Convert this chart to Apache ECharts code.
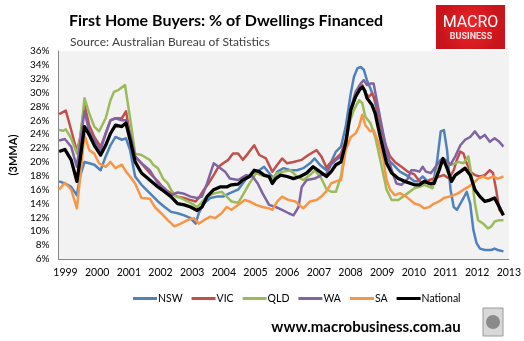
<!DOCTYPE html>
<html><head><meta charset="utf-8">
<script src="https://cdn.jsdelivr.net/npm/echarts@6/dist/echarts.min.js"></script>
<style>html,body{margin:0;padding:0;background:#fff}#c{width:524px;height:341px}</style>
</head><body><div id="c"></div>
<script>
var titleText = 'First Home Buyers: % of Dwellings Financed';
var subtitleText = 'Source: Australian Bureau of Statistics';
var footerText = 'www.macrobusiness.com.au';
var yAxisName = '(3MMA)';
var yearTicks = [1999,2000,2001,2002,2003,2004,2005,2006,2007,2008,2009,2010,2011,2012,2013];
var seriesNames = ['NSW','VIC','QLD','WA','SA','National'];

var nsw = [[1998.80,17.2],[1998.98,16.9],[1999.18,16.4],[1999.36,15.2],[1999.46,17.9],[1999.60,20.0],[1999.75,19.8],[1999.91,19.6],[2000.11,18.8],[2000.27,20.8],[2000.42,22.4],[2000.58,23.6],[2000.78,23.2],[2000.91,23.4],[2001.04,21.7],[2001.20,17.9],[2001.40,16.7],[2001.66,15.5],[2001.92,14.3],[2002.13,13.5],[2002.33,12.8],[2002.54,12.6],[2002.75,12.3],[2002.95,11.9],[2003.11,11.1],[2003.21,12.6],[2003.37,14.0],[2003.57,14.8],[2003.78,15.0],[2003.98,15.0],[2004.19,15.5],[2004.45,16.0],[2004.71,17.6],[2004.91,18.4],[2005.12,18.8],[2005.27,19.3],[2005.43,18.4],[2005.58,17.6],[2005.69,18.6],[2005.89,19.1],[2006.10,18.8],[2006.31,18.8],[2006.51,19.1],[2006.72,19.8],[2006.87,20.5],[2007.03,19.6],[2007.24,18.8],[2007.39,20.0],[2007.54,21.5],[2007.70,22.2],[2007.85,25.1],[2008.01,29.9],[2008.11,32.3],[2008.22,33.5],[2008.32,33.7],[2008.42,33.3],[2008.52,31.8],[2008.63,30.6],[2008.73,29.4],[2008.89,26.5],[2009.04,23.2],[2009.20,20.3],[2009.35,19.6],[2009.56,18.6],[2009.76,18.1],[2010.02,17.2],[2010.13,17.2],[2010.28,17.9],[2010.44,17.2],[2010.59,16.4],[2010.74,20.3],[2010.85,24.4],[2010.95,24.6],[2011.05,21.7],[2011.16,16.0],[2011.26,13.5],[2011.36,13.1],[2011.47,14.0],[2011.57,14.8],[2011.67,15.7],[2011.78,14.0],[2011.88,10.2],[2011.98,8.3],[2012.09,7.5],[2012.24,7.3],[2012.45,7.3],[2012.55,7.5],[2012.65,7.3],[2012.83,7.1]];

var vic = [[1998.80,26.9],[1999.01,27.4],[1999.18,24.6],[1999.36,21.5],[1999.46,23.4],[1999.60,28.2],[1999.75,25.3],[1999.91,23.6],[2000.11,22.2],[2000.27,24.1],[2000.42,26.0],[2000.58,26.3],[2000.78,26.3],[2000.91,27.3],[2001.04,23.9],[2001.20,20.8],[2001.40,19.8],[2001.66,18.4],[2001.92,17.2],[2002.13,16.0],[2002.33,15.5],[2002.54,15.0],[2002.75,14.8],[2002.95,14.5],[2003.11,14.3],[2003.21,14.8],[2003.37,16.0],[2003.52,16.9],[2003.68,18.1],[2003.83,19.3],[2003.98,19.8],[2004.14,20.3],[2004.29,21.2],[2004.45,21.2],[2004.60,20.3],[2004.76,21.2],[2004.96,22.4],[2005.12,21.0],[2005.33,20.5],[2005.53,18.6],[2005.69,19.6],[2005.84,20.5],[2006.00,19.8],[2006.20,20.0],[2006.46,20.3],[2006.67,21.0],[2006.93,21.7],[2007.08,20.8],[2007.24,19.2],[2007.39,20.0],[2007.54,20.5],[2007.70,21.2],[2007.85,23.2],[2008.01,27.5],[2008.16,29.4],[2008.27,30.4],[2008.37,31.1],[2008.47,29.9],[2008.58,29.4],[2008.68,29.9],[2008.78,28.9],[2008.94,25.6],[2009.09,22.7],[2009.25,20.8],[2009.40,20.0],[2009.61,19.3],[2009.81,18.6],[2010.02,18.2],[2010.18,17.2],[2010.33,16.9],[2010.49,17.4],[2010.64,17.6],[2010.80,17.9],[2010.95,18.1],[2011.11,17.6],[2011.26,18.8],[2011.36,20.3],[2011.47,21.5],[2011.57,21.2],[2011.67,19.8],[2011.78,18.6],[2011.93,18.1],[2012.09,17.9],[2012.24,18.1],[2012.40,18.8],[2012.50,18.4],[2012.60,16.0],[2012.70,13.1],[2012.83,12.3]];

var qld = [[1998.80,24.6],[1998.93,24.5],[1999.01,24.7],[1999.18,23.4],[1999.36,21.2],[1999.46,23.2],[1999.60,29.2],[1999.75,27.0],[1999.91,25.1],[2000.06,24.4],[2000.27,26.3],[2000.42,28.9],[2000.53,30.1],[2000.68,30.4],[2000.88,31.1],[2001.04,26.3],[2001.20,21.2],[2001.40,21.0],[2001.66,20.3],[2001.77,19.6],[2001.92,19.1],[2002.08,17.6],[2002.23,16.9],[2002.33,16.0],[2002.49,15.0],[2002.64,14.8],[2002.85,14.3],[2003.06,13.8],[2003.16,13.5],[2003.26,14.0],[2003.42,14.8],[2003.57,15.2],[2003.73,15.5],[2003.93,15.7],[2004.09,15.0],[2004.24,14.3],[2004.45,14.1],[2004.60,15.2],[2004.81,16.9],[2005.02,18.4],[2005.17,18.1],[2005.33,17.9],[2005.53,17.6],[2005.69,18.4],[2005.89,18.6],[2006.10,18.8],[2006.31,17.9],[2006.51,17.4],[2006.72,18.1],[2006.87,18.8],[2007.08,17.6],[2007.24,16.1],[2007.39,15.7],[2007.54,15.7],[2007.70,17.9],[2007.80,20.8],[2007.96,25.6],[2008.11,27.5],[2008.27,28.9],[2008.37,28.5],[2008.47,26.5],[2008.63,25.6],[2008.78,23.6],[2008.94,20.3],[2009.14,16.0],[2009.30,14.5],[2009.51,14.5],[2009.66,15.0],[2009.81,15.5],[2010.02,16.2],[2010.18,16.4],[2010.33,16.7],[2010.49,16.4],[2010.59,16.2],[2010.74,18.8],[2010.90,20.0],[2011.05,19.8],[2011.21,19.6],[2011.41,20.0],[2011.57,19.8],[2011.72,20.8],[2011.83,17.9],[2011.93,14.0],[2012.03,11.6],[2012.19,11.1],[2012.34,10.4],[2012.45,10.7],[2012.55,11.4],[2012.70,11.6],[2012.83,11.6]];

var wa = [[1998.80,23.1],[1998.98,23.3],[1999.18,22.2],[1999.36,19.3],[1999.46,22.7],[1999.60,27.3],[1999.75,24.4],[1999.91,23.2],[2000.11,21.7],[2000.27,24.1],[2000.42,26.0],[2000.58,26.3],[2000.78,26.0],[2000.91,26.0],[2001.04,24.1],[2001.20,20.8],[2001.40,19.8],[2001.66,18.8],[2001.92,16.9],[2002.13,16.2],[2002.33,15.2],[2002.54,15.6],[2002.75,15.4],[2002.95,15.0],[2003.16,14.8],[2003.31,15.0],[2003.47,16.9],[2003.68,19.8],[2003.83,19.3],[2004.04,18.6],[2004.19,17.6],[2004.45,17.4],[2004.71,18.1],[2004.91,17.9],[2005.07,16.9],[2005.22,15.5],[2005.43,13.8],[2005.64,13.5],[2005.84,13.1],[2006.05,12.6],[2006.20,12.3],[2006.36,13.5],[2006.46,16.4],[2006.62,17.4],[2006.87,17.6],[2007.08,18.1],[2007.24,18.3],[2007.39,19.6],[2007.54,20.3],[2007.70,20.8],[2007.85,22.7],[2008.01,27.7],[2008.16,30.1],[2008.32,31.3],[2008.42,31.8],[2008.52,31.1],[2008.63,31.3],[2008.73,31.3],[2008.83,28.9],[2008.99,25.1],[2009.14,21.7],[2009.30,18.8],[2009.45,16.9],[2009.61,16.7],[2009.81,17.6],[2009.92,18.8],[2010.02,18.8],[2010.18,18.6],[2010.28,19.3],[2010.38,18.6],[2010.54,18.4],[2010.69,19.3],[2010.85,20.3],[2011.00,20.3],[2011.16,19.6],[2011.31,20.8],[2011.47,22.4],[2011.62,23.2],[2011.78,23.6],[2011.93,24.4],[2012.09,23.4],[2012.24,23.9],[2012.40,22.9],[2012.55,23.4],[2012.70,22.9],[2012.83,22.2]];

var sa = [[1998.80,16.0],[1998.98,17.0],[1999.18,16.0],[1999.36,13.3],[1999.46,17.6],[1999.60,23.9],[1999.75,21.7],[1999.91,21.2],[2000.06,19.8],[2000.27,19.3],[2000.42,20.0],[2000.58,19.1],[2000.78,19.6],[2000.91,18.6],[2001.04,17.9],[2001.20,16.9],[2001.40,14.8],[2001.66,14.7],[2001.82,13.5],[2002.02,12.6],[2002.23,11.6],[2002.44,10.7],[2002.64,11.1],[2002.85,11.6],[2003.06,11.9],[2003.21,11.1],[2003.37,11.6],[2003.57,12.1],[2003.73,11.9],[2003.93,12.6],[2004.09,13.5],[2004.24,13.1],[2004.45,13.8],[2004.66,14.5],[2004.81,14.3],[2005.02,13.8],[2005.22,13.5],[2005.43,13.3],[2005.53,13.1],[2005.69,14.3],[2005.84,15.0],[2006.05,14.5],[2006.26,14.3],[2006.51,13.3],[2006.72,14.3],[2006.93,14.5],[2007.08,15.0],[2007.24,15.8],[2007.39,16.9],[2007.54,17.2],[2007.70,17.4],[2007.85,21.7],[2008.01,23.6],[2008.16,24.1],[2008.27,25.1],[2008.37,26.8],[2008.47,25.3],[2008.63,24.4],[2008.73,24.6],[2008.89,22.7],[2009.04,20.3],[2009.14,17.4],[2009.25,16.0],[2009.40,15.2],[2009.56,15.5],[2009.76,15.0],[2010.02,14.0],[2010.18,13.8],[2010.33,13.3],[2010.49,13.5],[2010.64,14.0],[2010.80,14.3],[2010.95,14.8],[2011.11,15.0],[2011.26,15.2],[2011.41,15.5],[2011.57,16.0],[2011.72,16.4],[2011.88,16.9],[2012.03,17.6],[2012.19,17.9],[2012.34,17.6],[2012.50,17.9],[2012.65,17.6],[2012.83,17.9]];

var national = [[1998.80,21.5],[1998.98,21.8],[1999.18,20.3],[1999.36,17.2],[1999.46,20.3],[1999.60,25.1],[1999.75,23.9],[1999.91,22.4],[2000.11,21.0],[2000.27,22.4],[2000.42,24.1],[2000.58,25.3],[2000.78,25.1],[2000.91,25.6],[2001.04,23.2],[2001.20,20.0],[2001.40,18.4],[2001.66,17.4],[2001.92,16.4],[2002.13,15.7],[2002.33,15.0],[2002.54,14.0],[2002.75,13.8],[2002.95,13.5],[2003.16,13.0],[2003.31,13.5],[2003.47,15.0],[2003.68,16.0],[2003.88,16.4],[2004.09,16.4],[2004.24,16.7],[2004.45,16.8],[2004.60,17.4],[2004.81,17.9],[2004.96,18.8],[2005.12,18.6],[2005.27,18.1],[2005.43,17.9],[2005.53,16.9],[2005.64,17.6],[2005.79,18.1],[2006.00,17.9],[2006.20,17.6],[2006.41,17.9],[2006.62,18.4],[2006.82,19.3],[2007.03,18.6],[2007.24,17.9],[2007.39,18.6],[2007.54,19.6],[2007.70,20.0],[2007.85,22.7],[2008.01,27.5],[2008.16,29.4],[2008.30,30.5],[2008.38,30.8],[2008.45,30.3],[2008.52,29.2],[2008.68,28.2],[2008.78,27.0],[2008.94,23.6],[2009.14,19.8],[2009.30,18.4],[2009.51,17.6],[2009.71,17.2],[2010.02,16.7],[2010.18,16.7],[2010.33,17.2],[2010.49,16.9],[2010.64,16.9],[2010.80,18.8],[2010.92,20.5],[2011.05,19.1],[2011.19,17.2],[2011.31,18.1],[2011.47,18.6],[2011.62,19.1],[2011.78,18.1],[2011.93,16.0],[2012.09,15.0],[2012.24,14.3],[2012.40,14.5],[2012.55,14.8],[2012.70,13.5],[2012.83,12.3]];

var seriesData = [nsw, vic, qld, wa, sa, national];
var colors = ['#4F81BD','#C0504D','#9BBB59','#8064A2','#F79646','#000000'];
var widths = [2.5,2.5,2.5,2.5,2.5,3.3];

var chart = echarts.init(document.getElementById('c'), null, {renderer:'canvas'});
var series = seriesNames.map(function(n,i){
  return {name:n,type:'line',data:seriesData[i],showSymbol:false,symbol:'none',smooth:false,
    lineStyle:{color:colors[i],width:widths[i],join:'round'},itemStyle:{color:colors[i]},z:2+i,animation:false};
});
chart.setOption({
  animation:false,
  backgroundColor:'#ffffff',
  textStyle:{fontFamily:'Lato'},
  title:[
    {text:titleText,left:221,top:8,textAlign:'center',textStyle:{fontFamily:'Lato',fontWeight:'bold',fontSize:16,color:'#000'}},
    {text:subtitleText,left:65,top:31,textStyle:{fontFamily:'Lato',fontWeight:'normal',fontSize:12,color:'#404040'}}
  ],
  grid:{left:52,right:13,top:51,bottom:82,show:true,backgroundColor:'#f2f2f2',borderWidth:0,containLabel:false},
  xAxis:{type:'value',min:1998.78,max:2013.0,
    axisLine:{show:true,lineStyle:{color:'#868686',width:1}},
    axisTick:{show:false},splitLine:{show:false},
    axisLabel:{customValues:yearTicks,formatter:function(v){return String(Math.round(v));},fontFamily:'Lato',fontSize:10.5,color:'#000',margin:8}},
  yAxis:{type:'value',min:6,max:36,interval:2,name:yAxisName,nameLocation:'middle',nameGap:33,nameRotate:90,
    nameTextStyle:{fontFamily:'Lato',fontWeight:'bold',fontSize:11,color:'#000'},
    axisLine:{show:true,lineStyle:{color:'#868686',width:1}},axisTick:{show:false},splitLine:{show:false},
    axisLabel:{formatter:'{value}%',fontFamily:'Lato',fontSize:10,color:'#000',margin:9}},
  legend:{data:seriesNames,left:128,top:288,icon:'rect',itemWidth:24,itemHeight:3,itemGap:9,
    textStyle:{fontFamily:'Lato',fontSize:10.5,color:'#000',padding:[0,0,0,-4]}},
  graphic:[
    {type:'rect',shape:{x:436,y:5,width:69,height:44},style:{fill:{type:'radial',x:0.5,y:0.5,r:0.7,colorStops:[{offset:0,color:'#f0262c'},{offset:1,color:'#c8141a'}]}},z:10},
    {type:'text',style:{x:470.5,y:23,text:'MACRO',fill:'#fff',font:'normal 16px Roboto',textAlign:'center',textVerticalAlign:'middle'},z:11},
    {type:'text',style:{x:471,y:37,text:'BUSINESS',fill:'#ffe0e0',font:'bold 9px Roboto',textAlign:'center',textVerticalAlign:'middle'},z:11},
    {type:'text',style:{x:366,y:327,text:footerText,fill:'#000',font:'bold 15px Lato',textAlign:'center',textVerticalAlign:'middle'},z:11},
    {type:'rect',shape:{x:483,y:308,width:20,height:28},style:{fill:'#d8d8d8',stroke:'#9a9a9a',lineWidth:1},z:10},
    {type:'circle',shape:{cx:493,cy:322,r:7},style:{fill:'#8a8a8a'},z:11}
  ],
  series:series
});
</script></body></html>
